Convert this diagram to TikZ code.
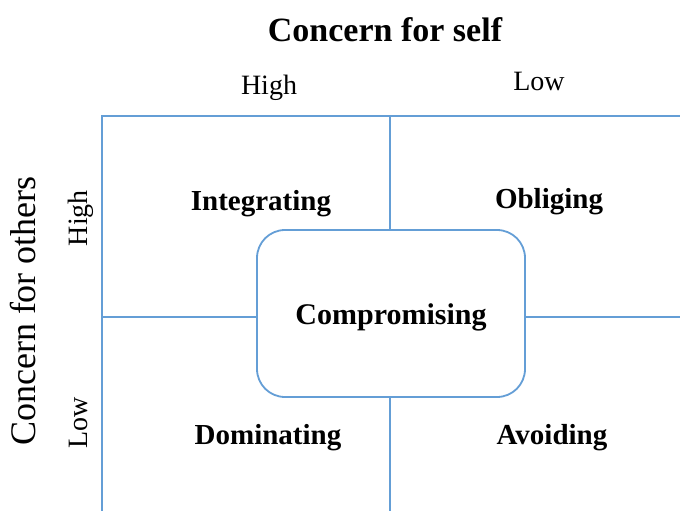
\documentclass[tikz,border=0pt]{standalone}
\usepackage{fontspec}
\setmainfont{Liberation Serif}
\definecolor{gridblue}{RGB}{100,158,214}
\begin{document}
\begin{tikzpicture}[x=1pt,y=-1pt,
  gridline/.style={draw=gridblue,line width=1.4pt},
  cbox/.style={draw=gridblue,line width=1.8pt,fill=white,rounded corners=28pt,
    minimum width=268pt,minimum height=167pt,inner sep=0pt},
  quad/.style={font=\fontsize{29}{34}\selectfont\bfseries,anchor=base,inner sep=0pt},
  axislab/.style={font=\fontsize{28}{34}\selectfont,anchor=base,inner sep=0pt},
  titlelab/.style={font=\fontsize{34}{40}\selectfont\bfseries,anchor=base,inner sep=0pt},
  sidelab/.style={font=\fontsize{36}{40}\selectfont,anchor=base,inner sep=0pt,rotate=90}]
\useasboundingbox (0,0) rectangle (680,511);
\coordinate (TL) at (102,116);
\coordinate (TR) at (680,116);
\coordinate (BL) at (102,511);
\coordinate (MT) at (390,116);
\coordinate (MB) at (390,511);
\coordinate (ML) at (102,317);
\coordinate (MR) at (680,317);
\draw[gridline] (BL) -- (TL) -- (TR);
\draw[gridline] (MT) -- (MB);
\draw[gridline] (ML) -- (MR);
\node[cbox] (comp) at (391,313.5) {};
\node[quad,font=\fontsize{30}{34}\selectfont\bfseries] (comptext) at (391,324) {Compromising};
\node[quad] (integ) at (261,210) {Integrating};
\node[quad] (oblig) at (549,208) {Obliging};
\node[quad] (domin) at (268,444) {Dominating};
\node[quad] (avoid) at (552,444) {Avoiding};
\node[titlelab] (self) at (385,42) {Concern for self};
\node[axislab] (selfhigh) at (269,95) {High};
\node[axislab] (selflow) at (539,90) {Low};
\node[sidelab] (others) at (35,311) {Concern for others};
\node[axislab,rotate=90] (othhigh) at (87,218) {High};
\node[axislab,rotate=90] (othlow) at (87,423) {Low};
\end{tikzpicture}
\end{document}
